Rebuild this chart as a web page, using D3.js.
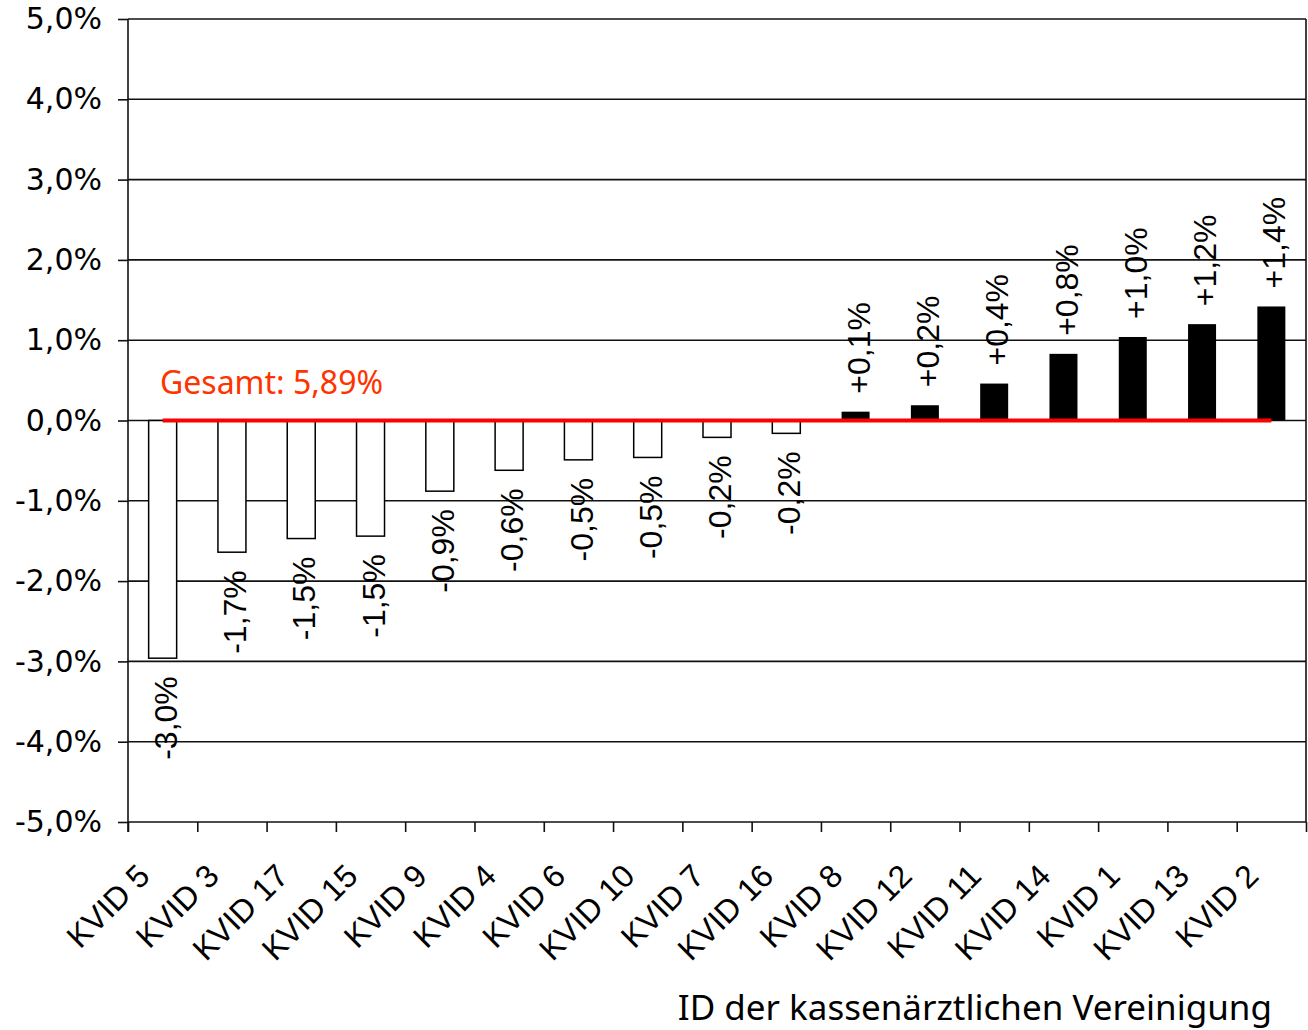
<!DOCTYPE html>
<html lang="de">
<head>
  <meta charset="UTF-8" />
  <title>Abweichung je KV</title>
  <script src="https://d3js.org/d3.v7.min.js"></script>
  <style>
    body {
      margin: 0;
      background: #fff;
    }
    svg {
      display: block;
    }
    .tick-label {
      font-family: "DejaVu Sans", "Noto Sans", sans-serif;
      font-size: 30px;
      fill: #000;
    }
    .note-label {
      font-family: "Noto Sans", "DejaVu Sans", sans-serif;
      font-size: 32px;
    }
    .cat-label, .bar-label {
      font-family: "Liberation Sans", Arial, sans-serif;
      font-size: 32px;
      fill: #000;
    }
  </style>
</head>
<body>
  <div id="chart"></div>
  <script>
    // Daten
    const categories = ["KVID 5", "KVID 3", "KVID 17", "KVID 15", "KVID 9", "KVID 4", "KVID 6", "KVID 10",
      "KVID 7", "KVID 16", "KVID 8", "KVID 12", "KVID 11", "KVID 14", "KVID 1", "KVID 13", "KVID 2"];
    const values = [-2.96, -1.64, -1.47, -1.44, -0.88, -0.62, -0.49, -0.46,
      -0.21, -0.16, 0.11, 0.19, 0.46, 0.83, 1.04, 1.20, 1.42];
    const barLabels = ["-3,0%", "-1,7%", "-1,5%", "-1,5%", "-0,9%", "-0,6%", "-0,5%", "-0,5%",
      "-0,2%", "-0,2%", "+0,1%", "+0,2%", "+0,4%", "+0,8%", "+1,0%", "+1,2%", "+1,4%"];
    const gesamtLine = categories.map(() => 0);
    const gesamtText = "Gesamt: 5,89%";
    const yTicks = [-5, -4, -3, -2, -1, 0, 1, 2, 3, 4, 5];
    const yTickLabels = ["-5,0%", "-4,0%", "-3,0%", "-2,0%", "-1,0%", "0,0%", "1,0%", "2,0%", "3,0%", "4,0%", "5,0%"];
    const xTitle = "ID der kassenärztlichen Vereinigung";

    const W = 1308, H = 1030;
    const margin = { top: 19, right: 2, bottom: 208, left: 128 };
    const innerW = W - margin.left - margin.right;
    const innerH = H - margin.top - margin.bottom;

    const svg = d3.select("#chart")
      .append("svg")
      .attr("width", W)
      .attr("height", H);

    const g = svg.append("g")
      .attr("transform", `translate(${margin.left},${margin.top})`);

    const x = d3.scaleBand()
      .domain(categories)
      .range([0, innerW])
      .padding(0);

    // fuer die Striche an den Kategoriegrenzen
    const xEdge = d3.scaleLinear()
      .domain([0, categories.length])
      .range([0, innerW]);

    const y = d3.scaleLinear()
      .domain([-5, 5])
      .range([innerH, 0]);

    const barW = 28;

    // Gitterlinien
    g.append("g")
      .selectAll("line")
      .data(yTicks)
      .join("line")
      .attr("x1", 0)
      .attr("x2", innerW)
      .attr("y1", d => y(d))
      .attr("y2", d => y(d))
      .attr("stroke", "#111")
      .attr("stroke-width", 1.6);

    // y-Achse
    const yAxis = g.append("g")
      .call(d3.axisLeft(y)
        .tickValues(yTicks)
        .tickSize(10)
        .tickPadding(16)
        .tickFormat((d, i) => yTickLabels[i]));
    yAxis.select(".domain").remove();
    yAxis.selectAll(".tick line").attr("stroke", "#111").attr("stroke-width", 1.6);
    yAxis.attr("font-size", null).attr("font-family", null);
    yAxis.selectAll(".tick text").attr("class", "tick-label");

    // x-Achse (Striche an den Grenzen)
    const xAxis = g.append("g")
      .attr("transform", `translate(0,${innerH})`)
      .call(d3.axisBottom(xEdge)
        .tickValues(d3.range(categories.length + 1))
        .tickSize(10)
        .tickFormat(""));
    xAxis.select(".domain").remove();
    xAxis.selectAll(".tick line").attr("stroke", "#111").attr("stroke-width", 1.6);

    // Rahmen links / rechts
    g.append("line")
      .attr("x1", 0).attr("x2", 0)
      .attr("y1", 0).attr("y2", innerH + 10)
      .attr("stroke", "#111").attr("stroke-width", 1.6);
    g.append("line")
      .attr("x1", innerW).attr("x2", innerW)
      .attr("y1", 0).attr("y2", innerH)
      .attr("stroke", "#111").attr("stroke-width", 1.6);

    // Balken
    g.append("g")
      .selectAll("rect")
      .data(values)
      .join("rect")
      .attr("x", (d, i) => x(categories[i]) + (x.bandwidth() - barW) / 2)
      .attr("y", d => y(Math.max(0, d)))
      .attr("width", barW)
      .attr("height", d => Math.abs(y(d) - y(0)))
      .attr("fill", d => d < 0 ? "#fff" : "#000")
      .attr("stroke", "#000")
      .attr("stroke-width", d => d < 0 ? 1.5 : 0);

    // Gesamt-Linie
    const line = d3.line()
      .x((d, i) => x(categories[i]) + x.bandwidth() / 2)
      .y(d => y(d));

    g.append("path")
      .datum(gesamtLine)
      .attr("fill", "none")
      .attr("stroke", "#ff0000")
      .attr("stroke-width", 4)
      .attr("d", line);

    g.append("text")
      .attr("class", "note-label")
      .attr("x", 32)
      .attr("y", y(0) - 27)
      .style("fill", "#ff3300")
      .text(gesamtText);

    // Werte an den Balken
    g.append("g")
      .selectAll("text")
      .data(values)
      .join("text")
      .attr("class", "bar-label")
      .attr("transform", (d, i) => {
        const cx = x(categories[i]) + x.bandwidth() / 2;
        const cy = d < 0 ? y(d) + 18 : y(d) - 18;
        return `translate(${cx},${cy}) rotate(-90)`;
      })
      .attr("dy", "0.44em")
      .attr("text-anchor", d => d < 0 ? "end" : "start")
      .text((d, i) => barLabels[i]);

    // Kategorien
    g.append("g")
      .selectAll("text")
      .data(categories)
      .join("text")
      .attr("class", "cat-label")
      .attr("text-anchor", "end")
      .attr("transform", d => `translate(${x(d) + x.bandwidth() / 2 - 11},${innerH + 56}) rotate(-45)`)
      .text(d => d);

    // Achsentitel
    svg.append("text")
      .attr("class", "note-label")
      .attr("x", 1272)
      .attr("y", 1020)
      .attr("text-anchor", "end")
      .style("font-size", "35px")
      .style("fill", "#000")
      .text(xTitle);
  </script>
</body>
</html>
